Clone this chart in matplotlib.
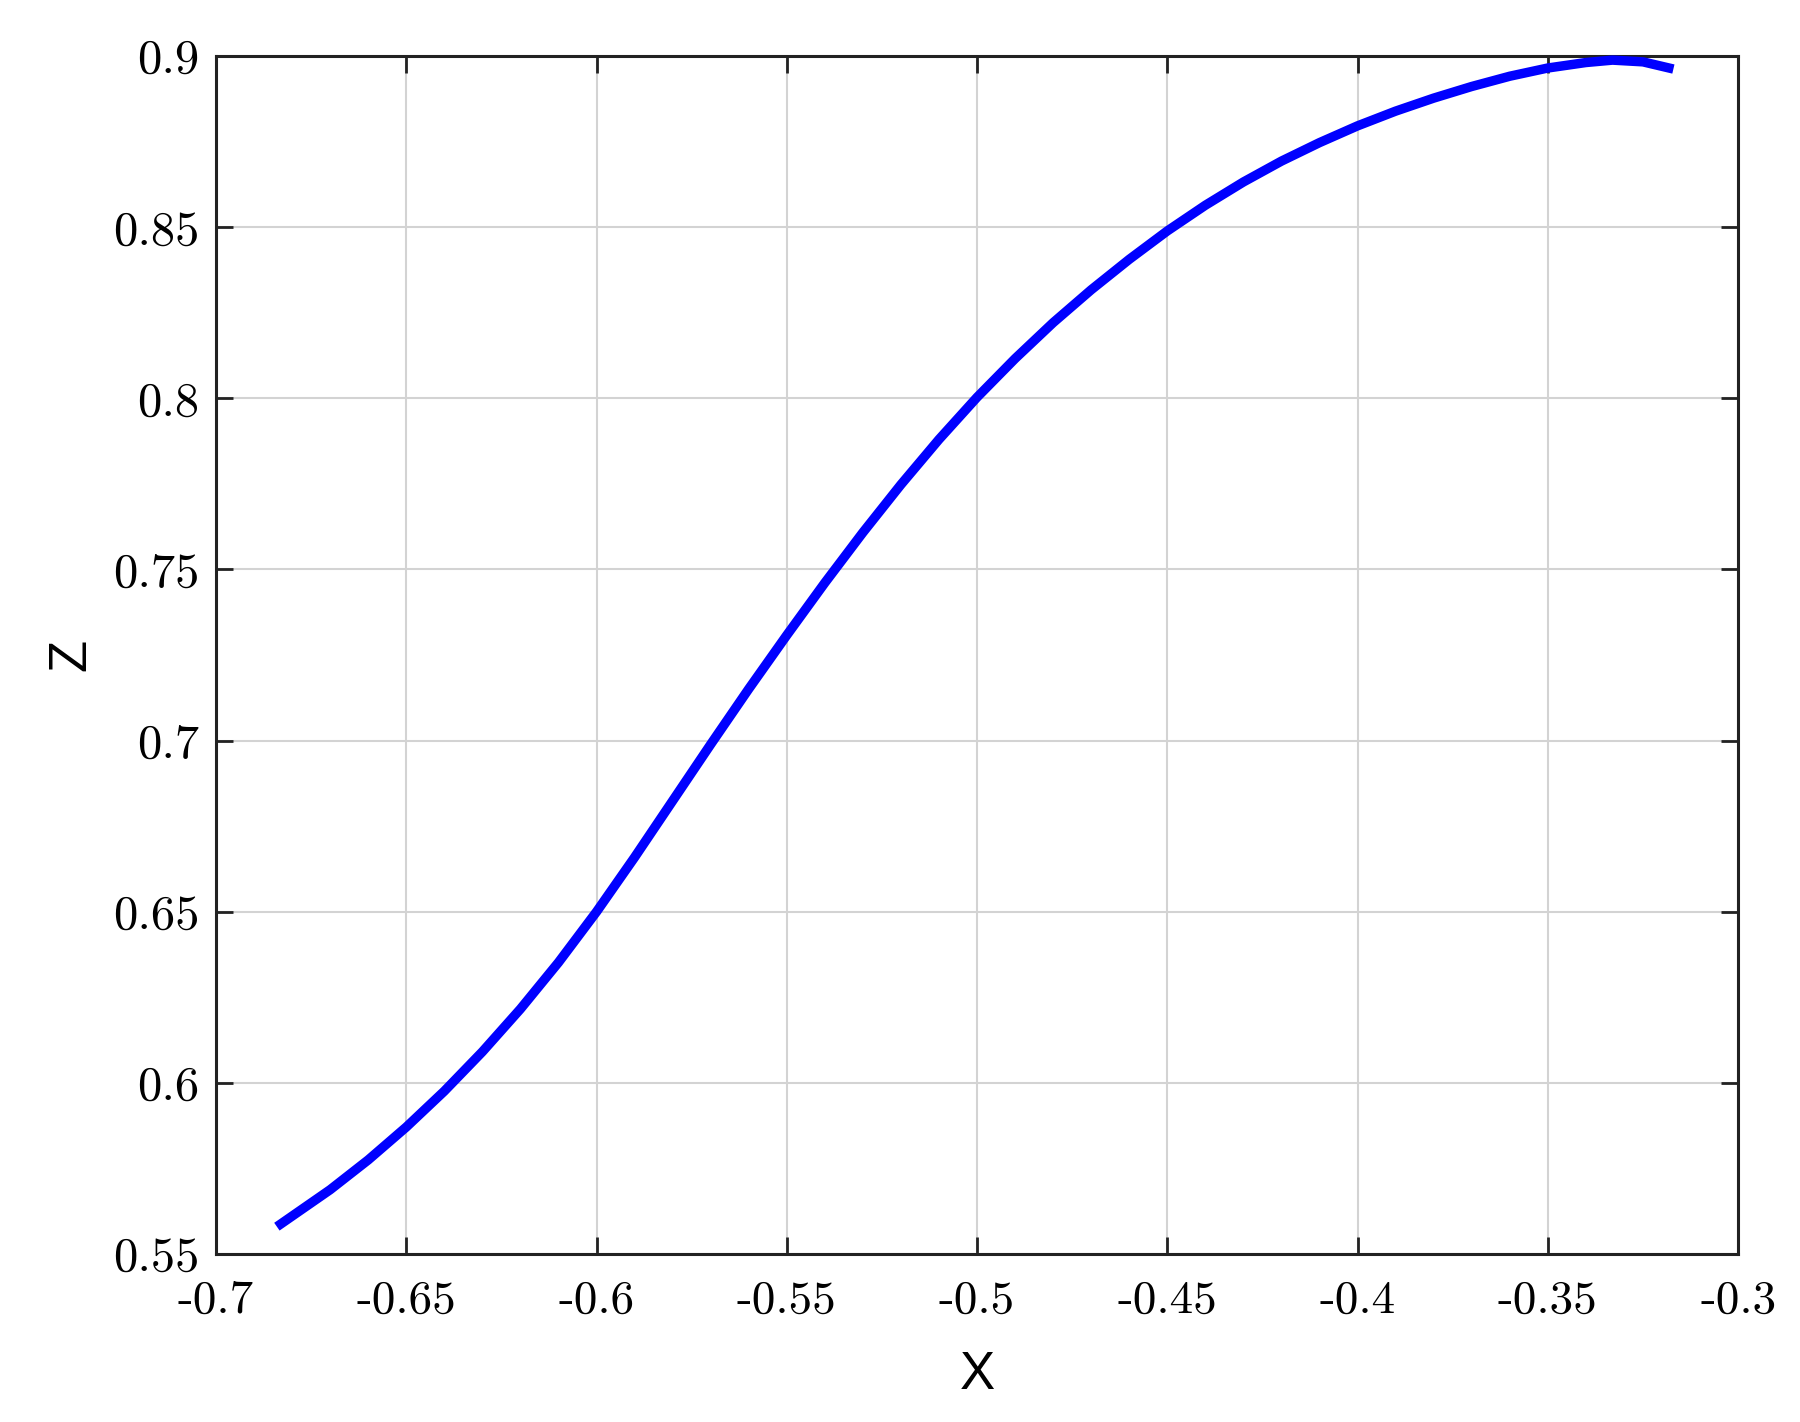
import matplotlib
matplotlib.use("Agg")
import matplotlib.pyplot as plt

x_vals = [-0.684, -0.67, -0.66, -0.65, -0.64, -0.63, -0.62, -0.61, -0.60, -0.59,
          -0.58, -0.57, -0.56, -0.55, -0.54, -0.53, -0.52, -0.51, -0.50, -0.49,
          -0.48, -0.47, -0.46, -0.45, -0.44, -0.43, -0.42, -0.41, -0.40, -0.39,
          -0.38, -0.37, -0.36, -0.35, -0.34, -0.333, -0.325, -0.317]
z_vals = [0.558, 0.5688, 0.5775, 0.5871, 0.5976, 0.6091, 0.6216, 0.6352, 0.650, 0.6659,
          0.6824, 0.6989, 0.7151, 0.7308, 0.7461, 0.7608, 0.7748, 0.788, 0.8003, 0.8116,
          0.8221, 0.8317, 0.8406, 0.8489, 0.8564, 0.8632, 0.8693, 0.8747, 0.8796, 0.8839,
          0.8877, 0.8911, 0.8941, 0.8965, 0.8981, 0.8988, 0.8983, 0.8962]

x_ticks = [-0.7, -0.65, -0.6, -0.55, -0.5, -0.45, -0.4, -0.35, -0.3]
x_tick_labels = ["-0.7", "-0.65", "-0.6", "-0.55", "-0.5", "-0.45", "-0.4", "-0.35", "-0.3"]
z_ticks = [0.55, 0.6, 0.65, 0.7, 0.75, 0.8, 0.85, 0.9]
z_tick_labels = ["0.55", "0.6", "0.65", "0.7", "0.75", "0.8", "0.85", "0.9"]

fig = plt.figure(figsize=(18, 14.22), dpi=100)
ax = fig.add_axes([0.12, 0.1181, 0.8456, 0.8425])

ax.plot(x_vals, z_vals, color="#0000ff", lw=6.8, solid_capstyle="butt",
        solid_joinstyle="round", clip_on=False, zorder=3)

ax.set_xlim(-0.7, -0.3)
ax.set_ylim(0.55, 0.9)
ax.set_xticks(x_ticks)
ax.set_xticklabels(x_tick_labels, fontfamily="cmr10", fontsize=34)
ax.set_yticks(z_ticks)
ax.set_yticklabels(z_tick_labels, fontfamily="cmr10", fontsize=35)
ax.tick_params(direction="in", length=12, width=2, top=True, right=True, color="#222222")
ax.tick_params(axis="x", pad=19)
ax.tick_params(axis="y", pad=12)
ax.grid(True, color="#d3d3d3", lw=1.5)
ax.set_axisbelow(True)
for s in ax.spines.values():
    s.set_linewidth(2.2)
    s.set_color("#222222")

ax.set_xlabel("X", fontfamily="Liberation Sans", fontsize=38, labelpad=20)
ax.set_ylabel("Z", fontfamily="Liberation Sans", fontsize=38, labelpad=12)

fig.savefig("out.png", dpi=100, facecolor="white")
